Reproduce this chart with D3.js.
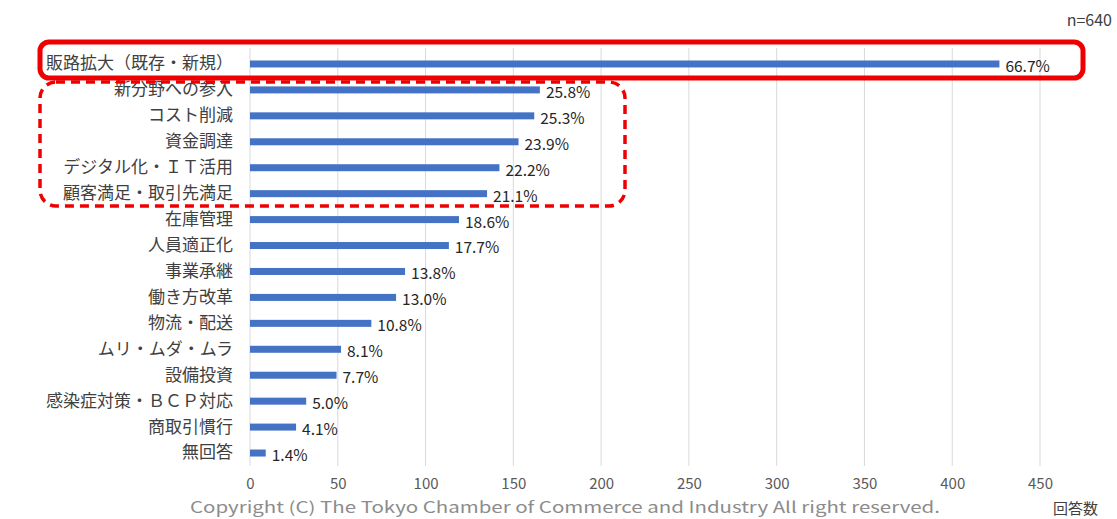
<!DOCTYPE html>
<html><head><meta charset="utf-8">
<script src="https://cdn.jsdelivr.net/npm/d3@7"></script>
<style>
html,body{margin:0;padding:0;background:#fff;}
text{font-family:"Noto Sans CJK JP","Noto Sans",sans-serif;}
</style></head>
<body><svg id="chart" width="1117" height="519"></svg>
<script>
const categories = ["販路拡大（既存・新規）","新分野への参入","コスト削減","資金調達","デジタル化・ＩＴ活用","顧客満足・取引先満足","在庫管理","人員適正化","事業承継","働き方改革","物流・配送","ムリ・ムダ・ムラ","設備投資","感染症対策・ＢＣＰ対応","商取引慣行","無回答"];
const percents = [66.7,25.8,25.3,23.9,22.2,21.1,18.6,17.7,13.8,13.0,10.8,8.1,7.7,5.0,4.1,1.4];
const respondents = 640;
const xTicks = [0,50,100,150,200,250,300,350,400,450];

const svg = d3.select("#chart");
const x = d3.scaleLinear().domain([0,450]).range([250,1040]);
const y = d3.scaleBand().domain(categories).range([51,466]).paddingInner(0.74).paddingOuter(0.37);

// vertical gridlines
svg.append("g").selectAll("line").data(xTicks).join("line")
  .attr("x1",d=>x(d)).attr("x2",d=>x(d)).attr("y1",48).attr("y2",466)
  .attr("stroke","#d9d9d9").attr("stroke-width",1);

// x axis labels
const xAxis = d3.axisBottom(x).tickValues(xTicks).tickSize(0).tickPadding(0);
const gx = svg.append("g").attr("transform","translate(0,478)").call(xAxis);
gx.select(".domain").remove();
gx.selectAll("text").attr("font-size",15).attr("fill","#595959").attr("dy","0.75em")
  .style("font-family","'Noto Sans CJK JP',sans-serif");

// category labels
const yAxis = d3.axisLeft(y).tickSize(0).tickPadding(0);
const gy = svg.append("g").attr("transform","translate(233,0)").call(yAxis);
gy.select(".domain").remove();
gy.selectAll("text").attr("font-size",17).attr("fill","#404040").attr("dy","0.32em")
  .style("font-family","'Noto Sans CJK JP',sans-serif");

// bars
const rows = categories.map((c,i)=>({c, p:percents[i], v:percents[i]*respondents/100}));
svg.append("g").selectAll("rect").data(rows).join("rect")
  .attr("x",x(0)).attr("y",d=>y(d.c)+y.bandwidth()/2-3.5)
  .attr("width",d=>x(d.v)-x(0)).attr("height",7)
  .attr("fill","#4472c4");

// value labels
svg.append("g").selectAll("text").data(rows).join("text")
  .attr("x",d=>x(d.v)+6).attr("y",d=>y(d.c)+y.bandwidth()/2+3)
  .attr("dy","0.32em").attr("font-size",15.5).attr("fill","#262626")
  .text(d=>d.p.toFixed(1)+"%");

// highlight frames
svg.append("rect").attr("x",40).attr("y",42).attr("width",1043).attr("height",36)
  .attr("rx",9).attr("fill","none").attr("stroke","#ee0000").attr("stroke-width",5);
svg.append("rect").attr("x",40).attr("y",82).attr("width",585).attr("height",124)
  .attr("rx",16).attr("fill","none").attr("stroke","#ee0000").attr("stroke-width",3.5)
  .attr("stroke-dasharray","9,6");

// annotations
svg.append("text").attr("x",1112).attr("y",26).attr("text-anchor","end")
  .attr("font-size",16).attr("fill","#404040").text("n=640");
svg.append("text").attr("x",1098).attr("y",514).attr("text-anchor","end")
  .attr("font-size",15).attr("fill","#404040").text("回答数");
svg.append("text").attr("x",190).attr("y",513)
  .attr("font-size",15.5).attr("fill","#8c8c8c")
  .attr("textLength",750).attr("lengthAdjust","spacingAndGlyphs")
  .text("Copyright (C) The Tokyo Chamber of Commerce and Industry All right reserved.");
</script></body></html>
